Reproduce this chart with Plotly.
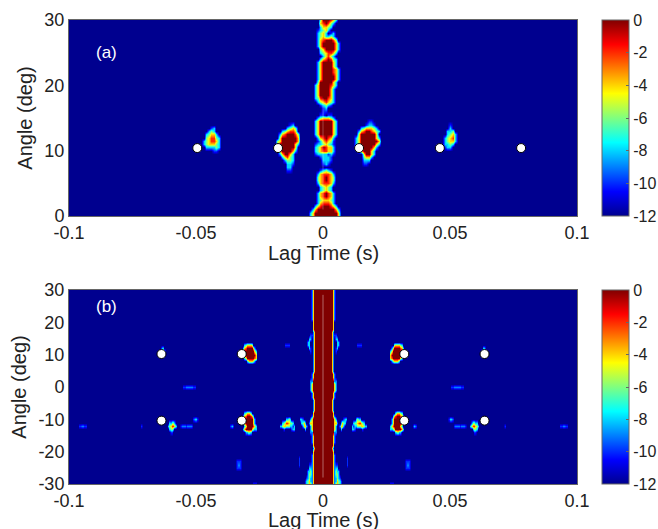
import numpy as np
import plotly.graph_objects as go

# Level codes (dB)
LEVELS = {".": -12, "b": -10, "n": -9, "c": -8, "g": -6, "y": -4, "r": -2, "D": 0}

LAG_TICKS = [-0.1, -0.05, 0, 0.05, 0.1]
LAG_LABELS = ["-0.1", "-0.05", "0", "0.05", "0.1"]
ANGLE_TICKS_A = [0, 10, 20, 30]
ANGLE_TICKS_B = [-30, -20, -10, 0, 10, 20, 30]
ANGLE_LABELS_B = ["-30", "-20", "-10", "0", "10", "20", "30"]
CBAR_TICKS = [-12, -10, -8, -6, -4, -2, 0]
CBAR_LABELS = ["-12", "-10", "-8", "-6", "-4", "-2", "0"]

# Panel (a): lag step 1 ms, angle step 0.5 deg
CENTRE_A = [
    ".....gDDDryc.", ".....yrDrgc..", ".....cyygc...", "....bcgyc....", "....cgyc.bc..",
    "....cgyccgc..", "....cyrDDDrg.", "....cyDDDDDyc", "....cyDDDDDyc", ".....gyDDDDyc",
    ".....cgyrryc.", "......cyrgc..", ".....cyrDrgc.", "....cyDDDDyc.", "....cyDDDDyc.",
    "....cyDDDDryc", "....cyDDDDryc", "....cyDDDDDyc", "....cyDDDDDyc", "....gDDDDDyc.",
    "...cyDDDDryc.", "...cyDDDDyc..", "...cyDDDDyc..", "...cyDDDDyc..", "...cgrDDryc..",
    "....cgyrygc..", ".....bcgcb...", "......bc.....", "......bb.....", ".....bb.bb...",
    "....cgyyygc..", "...cyDDDDDyc.", "...cyDDDDDyc.", "...cyDDDDDyc.", "...cyDDDDDyc.",
    "...cyDDDDDyc.", "....cyrDryc..", "....bcyrygb..", "...bccgygcb..", "...cgyDryyc..",
    "...cgyrryyc..", "...bccccbcb..", ".....bcccb...", "......cccb...", "......bcb....",
    ".............", ".....bcgcb...", "....cyrrryc..", "....gyrDryg..", "....gyrDryg..",
    "....cyrrryc..", ".....cgygc...", ".....cgygc...", "....cyrDryc..", "....cyrDryc..",
    "....cgyyygc..", "....cyrrryc..", "...cyrDDDryc.", "..cyDDDDDDDyc", ".cyDDDDDDDDDy",
    ".cyDDDDDDDDDy",
]
BLOB_A1 = ["...bc..", "..cgc..", ".cgyyc.", ".gyrrgc", "cgyrryc", "cgyyygc", ".ccccgc", "....bb."]
BLOB_A2 = [
    ".....bc..", "....cgyg.", "..cgyrry.", ".cyrDDDrg", ".yDDDDDDy", "gyDDDDDDy", "gDDDDDDyc",
    "gDDDDDDy.", ".yDDDDyc.", ".cyDDyc..", "..cyrgc..", "...cggc..", "....ccb..", "....cc...", "....bb...",
]
BLOB_A3 = [
    ".....bb...", "....bccb..", "..cgyyygc.", ".cyrDDrygc", ".yDDDDDDy.", "cyDDDDDDyc", "cyDDDDDDDy",
    "cyDDDDDDyc", "cyDDDDDyc.", ".cyDDDyc..", "...yDDyc..", "...gyyc...", "...ccc....", "...bb.....",
]
BLOB_A4 = ["..b..", "..c..", ".ccg.", ".cgyc", "cgyrc", "cgyyc", "ccgc.", "bcc.."]
PATCHES_A = [
    (-0.006, 30.0, CENTRE_A),
    (-0.047, 13.5, BLOB_A1),
    (-0.018, 14.0, BLOB_A2),
    (0.013, 14.5, BLOB_A3),
    (0.048, 14.0, BLOB_A4),
]
ECHO_LAG_A = [-0.0495, -0.0177, 0.0142, 0.046, 0.078]
ECHO_ANGLE_A = [10.4, 10.4, 10.4, 10.4, 10.4]

# Panel (b): lag step 0.5 ms, angle step 1 deg; half width of the central ridge (ms), top to bottom
CORE_HALF_WIDTH_MS = [
    3.7, 3.7, 3.7, 3.7, 3.7, 3.7, 3.7, 3.7, 3.6, 3.6,
    3.5, 3.5, 3.5, 3.4, 3.3, 3.2, 3.2, 3.2, 3.2, 3.2,
    3.2, 3.2, 3.2, 3.3, 3.3, 3.4, 3.6, 3.8, 4.0, 4.2,
    4.3, 4.1, 3.9, 3.6, 3.4, 3.2, 3.1, 3.2, 3.5, 3.9,
    4.3, 4.5, 4.4, 4.2, 4.0, 3.9, 3.8, 3.7, 3.5, 3.4,
    3.5, 3.7, 3.8, 3.8, 3.9, 3.9, 3.9, 3.9, 3.9, 3.9, 3.9,
]
CORE_EDGE_LEVELS = [0, -4, -9]
BLOB_B_UP = ["...cgyyyyg...", "..cyrDDDDDyc.", "..yDDDDDDDDyc", "..cyDDDDDDDDy", "...cyDDDDDDry", ".....cgyyygc."]
BLOB_B_LOW = ["...cgyyyc....", "..cyrDDDryc..", "..yDDDDDDDyc.", "...yDDDDDDyc.", "...cyDDDDDryc", "..cyDDDDDygcc", "....ccggc...."]
BLOB_B_FAR = ["..ccggc..", ".cgyrryc.", "..cggc...", "...bb...."]
TRAIL_B = ["bnnnbnnnnb"]
SPOT_B1 = ["bccb"]
SPOT_B2 = ["bbnnbb"]
ARC_B_FAR = [".cc.", "cggc"]
BLOB_B_NEAR = [".....ccgc....", "..cgyrryggc..", "ccgyygggccbc.", "...b.....bcc."]
LOBE_B = ["ccb....", ".cgyc..", "..cyyc.", "....c.."]
ARC_B = ["..bb", ".cc.", "cc..", "cc..", ".cb.", "..b."]
WISP_B = ["...bb", "...cc", "..ccg", "..cgg", ".bcgc", "bcgyc", "bcgyy"]
SPOTS_B = [
    (-0.034, -23.0, ["bbbb", "bnnb", "bbbb"]),
    (-0.0275, -30.0, ["bbb"]),
    (-0.055, 0.0, ["bbnnnnnnbb"]),
    (-0.015, 13.0, ["bbbb"]),
    (-0.0365, -12.0, ["bcb"]),
    (-0.0715, -12.0, ["b"]),
    (-0.0093, -22.0, ["b", "b", "b"]),
]
PATCHES_B = [
    (-0.0325, 13.0, BLOB_B_UP),
    (-0.0325, -8.0, BLOB_B_LOW),
    (-0.0615, -11.0, BLOB_B_FAR),
    (-0.056, -12.0, TRAIL_B),
    (-0.051, -10.0, SPOT_B1),
    (-0.096, -12.0, SPOT_B2),
    (-0.0642, 12.0, ARC_B_FAR),
    (-0.0172, -10.0, BLOB_B_NEAR),
    (-0.0088, -10.0, LOBE_B),
    (-0.006, 16.0, ARC_B),
    (-0.0072, -24.0, WISP_B),
] + SPOTS_B
ECHO_LAG_B = [-0.0636, -0.032, 0.032, 0.0636, -0.0636, -0.032, 0.032, 0.0636]
ECHO_ANGLE_B = [10.2, 10.2, 10.2, 10.2, -10.4, -10.4, -10.4, -10.4]


def stamp(z, lags, angles, lag0, angle0, rows, mirror=False):
    dl = lags[1] - lags[0]
    da = angles[1] - angles[0]
    i0 = int(round((lag0 - lags[0]) / dl))
    j0 = int(round((angle0 - angles[0]) / da))
    for j, row in enumerate(rows):
        for i, ch in enumerate(row):
            jj, ii = j0 + j, i0 + i
            if 0 <= jj < len(angles) and 0 <= ii < len(lags):
                z[jj, ii] = max(z[jj, ii], LEVELS[ch])
                if mirror:
                    m = len(lags) - 1 - ii
                    z[jj, m] = max(z[jj, m], LEVELS[ch])


lags_a = np.arange(-100, 101) * 1e-3
angles_a = 30 - 0.5 * np.arange(61)
z_a = np.full((61, 201), -12.0)
for lag0, ang0, rows in PATCHES_A:
    stamp(z_a, lags_a, angles_a, lag0, ang0, rows)

lags_b = np.arange(-200, 201) * 5e-4
angles_b = 30.0 - np.arange(61)
z_b = np.full((61, 401), -12.0)
for j, hw in enumerate(CORE_HALF_WIDTH_MS):
    for i, lag in enumerate(lags_b):
        n = int(np.ceil(max(abs(lag) * 1e3 - hw, 0) / 0.5))
        if n < len(CORE_EDGE_LEVELS):
            z_b[j, i] = CORE_EDGE_LEVELS[n]
for lag0, ang0, rows in PATCHES_B:
    stamp(z_b, lags_b, angles_b, lag0, ang0, rows, mirror=True)

JET = [[0, "rgb(0,0,143)"], [0.125, "rgb(0,0,255)"], [0.375, "rgb(0,255,255)"],
       [0.625, "rgb(255,255,0)"], [0.875, "rgb(255,0,0)"], [1, "rgb(128,0,0)"]]
FONT = "Liberation Sans"
W, H = 658, 529
TXT = "#222222"
FRAME = "#666666"


def colorbar(top, bottom):
    return dict(
        x=602 / W, xanchor="left", xpad=0, ypad=0,
        y=1 - bottom / H, yanchor="bottom", len=(bottom - top) / H, lenmode="fraction",
        thickness=27, thicknessmode="pixels", outlinecolor=FRAME, outlinewidth=1,
        tickvals=CBAR_TICKS, ticktext=CBAR_LABELS, ticks="inside", ticklen=3, tickcolor=FRAME,
        tickfont=dict(family=FONT, size=16, color=TXT),
    )


fig = go.Figure()
fig.add_trace(go.Heatmap(x=lags_a, y=angles_a, z=z_a, zmin=-12, zmax=0, zsmooth="best",
                         colorscale=JET, colorbar=colorbar(20, 216), xaxis="x", yaxis="y"))
fig.add_trace(go.Heatmap(x=lags_b, y=angles_b, z=z_b, zmin=-12, zmax=0, zsmooth="best",
                         colorscale=JET, colorbar=colorbar(290, 484), xaxis="x2", yaxis="y2"))
fig.add_trace(go.Scatter(x=[0, 0], y=[18, 1], mode="lines", xaxis="x", yaxis="y",
                         line=dict(color="rgba(255,255,255,0.25)", width=1), showlegend=False))
fig.add_trace(go.Scatter(x=[0, 0], y=[28.5, -28], mode="lines", xaxis="x2", yaxis="y2",
                         line=dict(color="rgba(255,255,255,0.4)", width=1), showlegend=False))
marker = dict(color="white", size=9, line=dict(color="black", width=1))
fig.add_trace(go.Scatter(x=ECHO_LAG_A, y=ECHO_ANGLE_A, mode="markers", marker=marker,
                         xaxis="x", yaxis="y", showlegend=False))
fig.add_trace(go.Scatter(x=ECHO_LAG_B, y=ECHO_ANGLE_B, mode="markers", marker=marker,
                         xaxis="x2", yaxis="y2", showlegend=False))

axis_common = dict(showgrid=False, zeroline=False, showline=True, mirror=True, linecolor=FRAME,
                   linewidth=1, ticks="", tickfont=dict(family=FONT, size=18, color=TXT),
                   automargin=False)
title_font = dict(family=FONT, size=20, color=TXT)
xdom = [69 / W, 577 / W]
fig.update_layout(
    width=W, height=H, margin=dict(l=0, r=0, t=0, b=0, autoexpand=False),
    paper_bgcolor="white", plot_bgcolor="white", showlegend=False,
    xaxis=dict(domain=xdom, range=[-0.1, 0.1], anchor="y", tickvals=LAG_TICKS, ticktext=LAG_LABELS,
               **axis_common),
    yaxis=dict(domain=[1 - 216 / H, 1 - 20 / H], range=[0, 30], anchor="x", tickvals=ANGLE_TICKS_A,
               title=dict(text="Angle (deg)", font=title_font, standoff=6), **axis_common),
    xaxis2=dict(domain=xdom, range=[-0.1, 0.1], anchor="y2", tickvals=LAG_TICKS, ticktext=LAG_LABELS,
                **axis_common),
    yaxis2=dict(domain=[1 - 484 / H, 1 - 290 / H], range=[-30, 30], anchor="x2", tickvals=ANGLE_TICKS_B,
                ticktext=ANGLE_LABELS_B,
                title=dict(text="Angle (deg)", font=title_font, standoff=6), **axis_common),
    annotations=[
        dict(text="(a)", xref="paper", yref="paper", x=106 / W, y=1 - 53 / H, xanchor="center",
             yanchor="middle", showarrow=False, font=dict(family=FONT, size=17, color="white")),
        dict(text="(b)", xref="paper", yref="paper", x=106 / W, y=1 - 306 / H, xanchor="center",
             yanchor="middle", showarrow=False, font=dict(family=FONT, size=17, color="white")),
        dict(text="Lag Time (s)", xref="paper", yref="paper", x=323 / W, y=1 - 253 / H, xanchor="center",
             yanchor="middle", showarrow=False, font=title_font),
        dict(text="Lag Time (s)", xref="paper", yref="paper", x=323 / W, y=1 - 520 / H, xanchor="center",
             yanchor="middle", showarrow=False, font=title_font),
    ],
)
fig.write_html("out.html", post_script="document.body.style.margin='0';",
               config={"displayModeBar": False})
